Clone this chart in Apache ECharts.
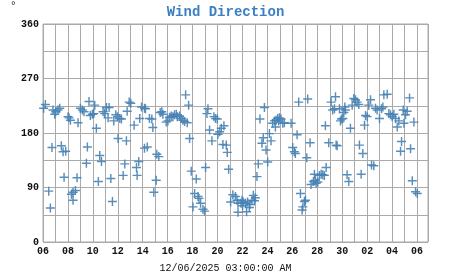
<!DOCTYPE html>
<html><head><meta charset="utf-8">
<script src="https://cdn.jsdelivr.net/npm/echarts@6/dist/echarts.min.js"></script>
<style>html,body{margin:0;padding:0;background:#fff}#c{width:451px;height:275px}</style>
</head><body><div id="c"></div>
<script>
// days since Nov 6 00:00 (x), wind direction in degrees (y)
const dayOffsets = [
0.05,0.19,0.46,0.59,0.72,0.80,0.94,1.02,1.20,1.34,1.47,1.61,1.69,1.82,2.01,2.09,2.20,2.28,2.41,2.41,2.60,2.73,2.81,3.00,3.16,3.29,3.48,3.56,3.69,3.80,3.96,4.07,4.15,4.28,4.44,4.55,4.69,4.82,4.95,5.09,5.22,5.30,5.44,5.57,5.68,5.84,5.97,6.02,6.16,6.29,6.43,6.56,6.69,6.75,6.91,7.04,7.31,7.50,7.55,7.68,7.76,7.90,
8.14,8.22,8.14,8.36,8.54,8.73,8.81,8.89,9.08,9.13,9.29,9.40,9.53,9.62,9.88,10.02,10.15,10.28,10.42,10.55,10.69,10.77,10.95,11.09,11.22,11.36,11.44,11.57,11.68,11.76,11.89,12.03,12.16,12.29,12.43,12.51,12.64,12.83,12.96,13.04,13.15,13.23,13.36,13.55,13.71,13.84,13.98,14.03,14.17,14.30,14.43,14.51,14.70,14.78,14.89,15.05,15.23,15.43,15.56,15.64,15.64,
15.88,15.96,16.01,16.06,16.23,16.33,16.41,16.55,16.60,16.76,16.87,16.96,17.03,17.16,17.27,17.40,17.56,17.67,17.76,17.89,18.02,18.16,18.29,18.42,18.56,18.64,18.69,18.82,18.90,18.96,19.09,19.23,19.36,19.90,20.03,20.16,20.24,20.38,20.51,20.65,20.78,20.84,20.97,21.05,21.16,21.23,21.42,21.50,21.69,21.77,21.85,21.91,22.04,22.17,22.31,22.44,22.57,22.65,22.71,22.92,23.11,23.24,23.38,23.46,23.51,
23.59,23.78,23.86,23.94,24.05,24.13,24.21,24.26,24.39,24.53,24.66,24.80,24.93,25.06,25.20,25.33,25.38,25.52,25.65,25.79,25.87,26.00,26.13,26.27,26.35,26.53,26.67,26.80,26.99,27.15,27.26,27.34,27.61,27.74,27.87,28.01,28.14,28.28,28.41,28.54,28.68,28.76,28.89,28.95,29.08,29.21,29.40,29.48,29.62,29.75,29.88,30.02
];
const directions = [
221,227,84,56,156,218,211,215,218,221,159,149,107,150,207,205,201,79,69,82,85,106,197,221,218,215,130,157,232,209,211,212,226,188,100,143,133,215,212,222,205,222,105,67,200,210,207,171,204,203,110,129,167,216,231,229,193,123,110,133,204,223,
221,220,155,157,204,203,189,82,102,145,141,214,215,211,198,200,206,208,207,210,211,207,208,204,201,199,243,197,226,171,117,58,80,104,75,72,64,54,51,123,212,220,185,167,207,204,203,178,182,188,161,192,160,148,120,66,78,75,69,64,49,
64,69,60,66,64,50,66,57,62,69,77,68,73,108,129,203,163,172,222,152,132,179,167,196,200,190,201,204,200,205,203,196,197,196,156,149,146,177,231,80,53,58,67,69,139,236,164,95,100,112,102,97,99,110,112,111,110,192,123,164,231,218,220,240,160,
159,220,200,203,204,214,223,218,111,100,188,226,237,235,231,227,160,112,146,193,209,207,226,235,127,126,221,218,204,220,223,243,244,212,210,207,211,204,190,200,150,166,218,196,210,216,238,154,101,198,83,80
];
const yTicks = [0, 90, 180, 270, 360];
const dayLabelStart = 6;      // first day label
const monthDays = 30;         // November length
const dateStamp = '12/06/2025 03:00:00 AM';
const chartTitle = 'Wind Direction';

const pts = dayOffsets.map((d, i) => [d, directions[i]]);
const chart = echarts.init(document.getElementById('c'), null, {renderer: 'canvas'});
const mono = '"Liberation Mono", "DejaVu Sans Mono", monospace';
chart.setOption({
  animation: false,
  backgroundColor: '#fff',
  title: {
    text: chartTitle, left: 'center', top: 0,
    textStyle: {fontFamily: mono, fontWeight: 'bold', fontSize: 14, color: '#3b7fc4'}
  },
  graphic: [
    {type: 'text', left: 10, top: 1, style: {text: '°', font: '11px ' + mono, fill: '#222'}},
    {type: 'text', left: 'center', top: 263, style: {text: dateStamp, font: '10px ' + mono, fill: '#111'}}
  ],
  grid: {left: 43, right: 23, top: 24, bottom: 33, show: true, borderColor: '#aaa', borderWidth: 1},
  xAxis: {
    type: 'value', min: 0, max: 30.88, interval: 1,
    axisLine: {show: false}, axisTick: {show: false},
    splitLine: {show: true, lineStyle: {color: '#aaa', width: 1}},
    axisLabel: {
      showMaxLabel: false, margin: 4,
      fontFamily: mono, fontWeight: 'bold', fontSize: 10, color: '#111',
      formatter: v => {
        if (Math.abs(v - Math.round(v)) > 1e-6 || Math.round(v) % 2) return '';
        let d = dayLabelStart + Math.round(v);
        if (d > monthDays) d -= monthDays;
        return String(d).padStart(2, '0');
      }
    }
  },
  yAxis: {
    type: 'value', min: 0, max: 360, interval: 45,
    axisLine: {show: false}, axisTick: {show: false},
    splitLine: {show: true, lineStyle: {color: '#aaa', width: 1}},
    axisLabel: {
      margin: 4, fontFamily: mono, fontWeight: 'bold', fontSize: 10, color: '#111',
      formatter: v => yTicks.includes(v) ? String(v) : ''
    }
  },
  series: [{
    type: 'scatter', data: pts,
    symbol: 'path://M4.2,0H5.8V4.2H10V5.8H5.8V10H4.2V5.8H0V4.2H4.2Z',
    symbolSize: 9,
    itemStyle: {color: '#4682b4', opacity: 0.9}
  }]
});
</script></body></html>
